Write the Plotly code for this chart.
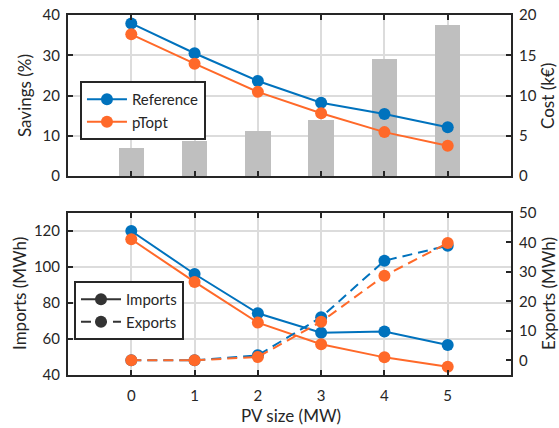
import plotly.graph_objects as go

pv_size = [0, 1, 2, 3, 4, 5]
savings_reference = [37.9, 30.5, 23.6, 18.2, 15.4, 12.1]
savings_ptopt = [35.2, 27.9, 20.9, 15.6, 10.9, 7.5]
cost_keur = [3.5, 4.3, 5.6, 7.0, 14.5, 18.8]
imports_reference = [120.0, 96.1, 74.3, 63.5, 64.2, 56.7]
imports_ptopt = [115.4, 91.7, 69.1, 57.1, 49.8, 44.6]
exports_reference = [0.0, 0.0, 1.7, 14.6, 33.8, 38.9]
exports_ptopt = [0.0, 0.0, 1.1, 13.1, 28.7, 39.8]

BLUE = "#0072BD"
ORANGE = "#FF6929"
DARK = "#333333"
TXT = "#262626"
FONT = "Lato"
TICK_SIZE = 15
TITLE_SIZE = 17

fig = go.Figure()

# Top panel: cost bars (right axis, base), savings lines (left axis, overlay)
fig.add_trace(go.Bar(x=pv_size, y=cost_keur, width=0.4, marker=dict(color="#BFBFBF", line=dict(width=0)),
                     xaxis="x", yaxis="y", showlegend=False))
fig.add_trace(go.Scatter(x=pv_size, y=savings_reference, mode="lines+markers", name="Reference",
                         line=dict(color=BLUE, width=2), marker=dict(size=12, color=BLUE),
                         xaxis="x", yaxis="y2", legend="legend"))
fig.add_trace(go.Scatter(x=pv_size, y=savings_ptopt, mode="lines+markers", name="pTopt",
                         line=dict(color=ORANGE, width=2), marker=dict(size=12, color=ORANGE),
                         xaxis="x", yaxis="y2", legend="legend"))

# Bottom panel: imports (left, base), exports (right, overlay)
fig.add_trace(go.Scatter(x=pv_size, y=imports_reference, mode="lines+markers", showlegend=False,
                         line=dict(color=BLUE, width=2), marker=dict(size=12, color=BLUE),
                         xaxis="x2", yaxis="y3"))
fig.add_trace(go.Scatter(x=pv_size, y=imports_ptopt, mode="lines+markers", showlegend=False,
                         line=dict(color=ORANGE, width=2), marker=dict(size=12, color=ORANGE),
                         xaxis="x2", yaxis="y3"))
fig.add_trace(go.Scatter(x=pv_size, y=exports_reference, mode="lines+markers", showlegend=False,
                         line=dict(color=BLUE, width=2, dash="10px,6px"), marker=dict(size=12, color=BLUE),
                         xaxis="x2", yaxis="y4"))
fig.add_trace(go.Scatter(x=pv_size, y=exports_ptopt, mode="lines+markers", showlegend=False,
                         line=dict(color=ORANGE, width=2, dash="10px,6px"), marker=dict(size=12, color=ORANGE),
                         xaxis="x2", yaxis="y4"))
# legend-only entries for bottom panel
fig.add_trace(go.Scatter(x=[None], y=[None], mode="lines+markers", name="Imports",
                         line=dict(color=DARK, width=2), marker=dict(size=12, color=DARK),
                         xaxis="x2", yaxis="y3", legend="legend2"))
fig.add_trace(go.Scatter(x=[None], y=[None], mode="lines+markers", name="Exports",
                         line=dict(color=DARK, width=2, dash="10px,6px"), marker=dict(size=12, color=DARK),
                         xaxis="x2", yaxis="y3", legend="legend2"))

axis_common = dict(showline=True, linecolor=TXT, linewidth=2, ticks="inside", ticklen=5,
                   tickwidth=2, tickcolor=TXT, zeroline=False, automargin=False,
                   tickfont=dict(family=FONT, size=TICK_SIZE, color=TXT))
grid = dict(showgrid=True, gridcolor="#DCDCDC", gridwidth=1.5)

TOP = [0.5528, 1.0]
BOT = [0.0, 0.45]

W, H = 559, 428
ML, MR, MT, MB = 68, 48, 15, 53
PW, PH = W - ML - MR, H - MT - MB


def px_x(px):
    return (px - ML) / PW


def px_y(py):
    return (H - MB - py) / PH


def title_ann(text, x_px, y_px, angle):
    return dict(text=text, x=px_x(x_px), y=px_y(y_px), xref="paper", yref="paper",
                xanchor="center", yanchor="middle", showarrow=False, textangle=angle,
                font=dict(family=FONT, size=TITLE_SIZE, color=TXT))


fig.update_layout(
    width=W, height=H,
    margin=dict(l=ML, r=MR, t=MT, b=MB, autoexpand=False),
    paper_bgcolor="white", plot_bgcolor="white",
    font=dict(family=FONT, size=TICK_SIZE, color=TXT),
    bargap=0,
    xaxis=dict(domain=[0, 1], range=[-1, 6], tickvals=pv_size, showticklabels=False,
               mirror="ticks", anchor="y", **axis_common, **grid),
    yaxis=dict(domain=TOP, range=[0, 20], tickvals=[0, 5, 10, 15, 20], side="right", anchor="x",
               ticklabelstandoff=3, **axis_common, **grid),
    yaxis2=dict(range=[0, 40], tickvals=[0, 10, 20, 30, 40], side="left", overlaying="y", anchor="x",
                showgrid=False, ticklabelstandoff=3, **axis_common),
    xaxis2=dict(domain=[0, 1], range=[-1, 6], tickvals=pv_size, mirror="ticks", anchor="y3",
                ticklabelstandoff=6, **axis_common, **grid),
    yaxis3=dict(domain=BOT, range=[40, 130], tickvals=[40, 60, 80, 100, 120], side="left", anchor="x2",
                ticklabelstandoff=3, **axis_common, **grid),
    yaxis4=dict(range=[-5, 50], tickvals=[0, 10, 20, 30, 40, 50], side="right", overlaying="y3", anchor="x2",
                showgrid=False, ticklabelstandoff=3, **axis_common),
    legend=dict(x=0.027, y=0.8167, xanchor="left", yanchor="top", bgcolor="white",
                bordercolor=TXT, borderwidth=2, itemwidth=40,
                font=dict(family=FONT, size=15, color=TXT), tracegroupgap=0),
    legend2=dict(x=0.0135, y=0.261, xanchor="left", yanchor="top", bgcolor="white",
                 bordercolor=TXT, borderwidth=2, itemwidth=40,
                 font=dict(family=FONT, size=15, color=TXT), tracegroupgap=0),
    annotations=[
        title_ann("Savings (%)", 25, 96, -90),
        title_ann("Cost (k€)", 548, 96, -90),
        title_ann("Imports (MWh)", 19, 294, -90),
        title_ann("Exports (MWh)", 548, 294, -90),
        title_ann("PV size (MW)", 291, 415, 0),
    ],
)

fig.write_html("out.html")
